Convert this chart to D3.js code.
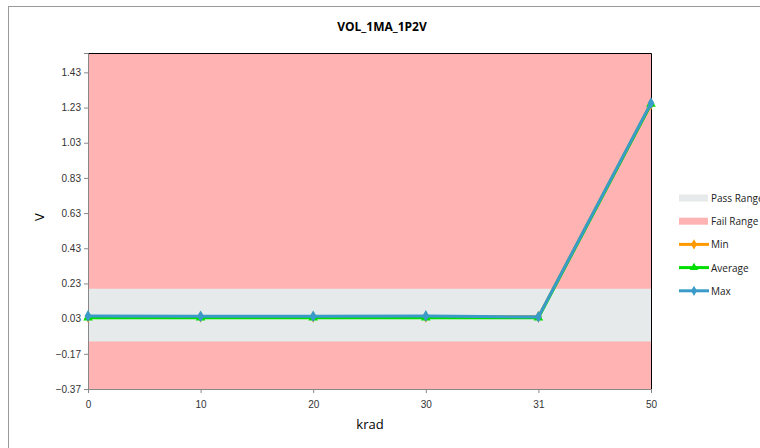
<!DOCTYPE html>
<html>
<head>
<meta charset="utf-8">
<title>VOL_1MA_1P2V</title>
<style>
  body { margin: 0; background: #fff; font-family: "Open Sans", "Liberation Sans", sans-serif; }
  .tick text { font-size: 10px; fill: #333; }
  .legend text { font-size: 10px; fill: #222; }
</style>
<script src="https://cdn.jsdelivr.net/npm/d3@7"></script>
</head>
<body>
<script>
// data
var categories = ["0", "10", "20", "30", "31", "50"];
var minValues = [0.04, 0.04, 0.04, 0.04, 0.04, 1.25];
var avgValues = [0.035, 0.035, 0.035, 0.035, 0.035, 1.25];
var maxValues = [0.045, 0.043, 0.043, 0.045, 0.04, 1.255];
var passRange = [-0.1, 0.2];
var yTicks = [-0.37, -0.17, 0.03, 0.23, 0.43, 0.63, 0.83, 1.03, 1.23, 1.43];
var yDomain = [-0.37, 1.54];

var width = 760, height = 448;
var margin = {top: 53, right: 109, bottom: 59, left: 88};
var w = width - margin.left - margin.right,
    h = height - margin.top - margin.bottom;

var svg = d3.select("body").append("svg")
    .attr("width", width)
    .attr("height", height);

// chart frame
svg.append("rect")
    .attr("x", 8.5).attr("y", 6.5)
    .attr("width", 800).attr("height", 500)
    .attr("fill", "none").attr("stroke", "#999");

svg.append("text")
    .attr("x", 382).attr("y", 31)
    .attr("text-anchor", "middle")
    .style("font-size", "12px").style("font-weight", "bold")
    .text("VOL_1MA_1P2V");

var g = svg.append("g")
    .attr("transform", "translate(" + margin.left + "," + margin.top + ")");

var x = d3.scalePoint().domain(categories).range([0, w]);
var y = d3.scaleLinear().domain(yDomain).range([h, 0]);

// fail range covers everything, pass range on top
g.append("rect")
    .attr("x", 0).attr("y", 0)
    .attr("width", w).attr("height", h)
    .attr("fill", "#ffb3b3");
g.append("rect")
    .attr("x", 0).attr("y", y(passRange[1]))
    .attr("width", w).attr("height", y(passRange[0]) - y(passRange[1]))
    .attr("fill", "#e6eaea");

// top and right border
g.append("path")
    .attr("d", "M0,0.5H" + (w + 0.5) + "V" + h)
    .attr("fill", "none").attr("stroke", "#000");

// axes
var yAxis = g.append("g")
    .call(d3.axisLeft(y).tickValues(yTicks).tickSize(4).tickFormat(d3.format(".2f")));
var xAxis = g.append("g")
    .attr("transform", "translate(0," + h + ")")
    .call(d3.axisBottom(x).tickSize(4).tickPadding(8));
g.selectAll(".domain, .tick line").attr("stroke", "#888");

svg.append("text")
    .attr("transform", "translate(44," + (margin.top + h / 2 - 4) + ") rotate(-90)")
    .attr("text-anchor", "middle")
    .style("font-size", "13px")
    .text("V");
svg.append("text")
    .attr("x", 370).attr("y", 429)
    .attr("text-anchor", "middle")
    .style("font-size", "13px")
    .text("krad");

var line = d3.line()
    .x(function(d, i) { return x(categories[i]); })
    .y(function(d) { return y(d); });

var series = [
  {name: "Min", values: minValues, color: "#ff9900", symbol: d3.symbolDiamond},
  {name: "Average", values: avgValues, color: "#00dd00", symbol: d3.symbolTriangle},
  {name: "Max", values: maxValues, color: "#3a9bc9", symbol: d3.symbolDiamond}
];

series.forEach(function(s) {
  g.append("path")
      .datum(s.values)
      .attr("d", line)
      .attr("fill", "none")
      .attr("stroke", s.color)
      .attr("stroke-width", 3);
  g.selectAll(null)
      .data(s.values)
      .enter().append("path")
      .attr("transform", function(d, i) { return "translate(" + x(categories[i]) + "," + y(d) + ")"; })
      .attr("d", d3.symbol().type(s.symbol).size(40))
      .attr("fill", s.color);
});

// legend
var legend = svg.append("g").attr("class", "legend")
    .attr("transform", "translate(679,198)");
var items = [
  {name: "Pass Range", color: "#e6eaea", type: "box"},
  {name: "Fail Range", color: "#ffb3b3", type: "box"}
].concat(series.map(function(s) { return {name: s.name, color: s.color, type: "line", symbol: s.symbol}; }));

items.forEach(function(it, i) {
  var row = legend.append("g").attr("transform", "translate(0," + (i * 23.2) + ")");
  if (it.type === "box") {
    row.append("rect").attr("x", 0).attr("y", -3.5).attr("width", 29).attr("height", 7).attr("fill", it.color);
  } else {
    row.append("line").attr("x1", 0).attr("x2", 30).attr("y1", 0).attr("y2", 0)
        .attr("stroke", it.color).attr("stroke-width", 3);
    row.append("path").attr("transform", "translate(15,0)")
        .attr("d", d3.symbol().type(it.symbol).size(30)).attr("fill", it.color);
  }
  row.append("text").attr("x", 32).attr("y", 4).text(it.name);
});
</script>
</body>
</html>
